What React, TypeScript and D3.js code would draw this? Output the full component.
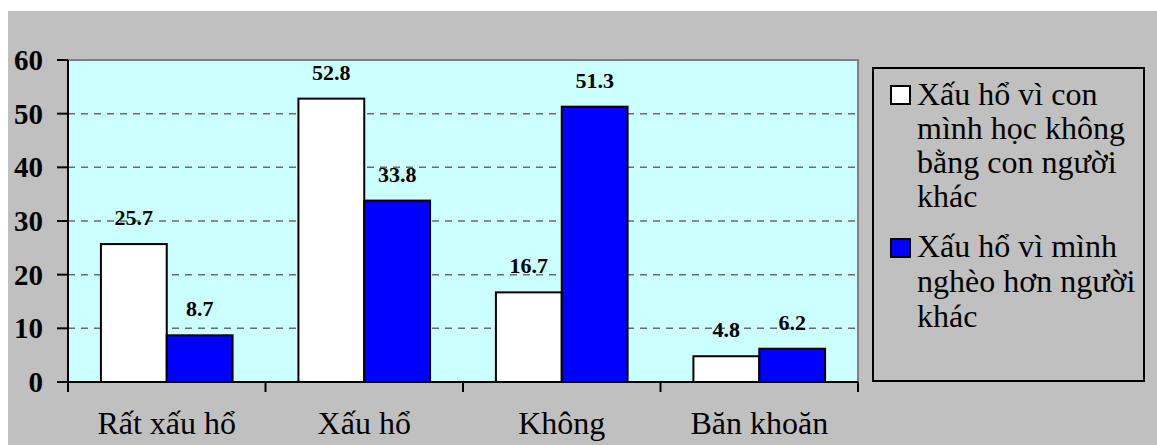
import React from "react";
import * as d3 from "d3";

const categories = ["Rất xấu hổ", "Xấu hổ", "Không", "Băn khoăn"];
const seriesNames = [
  "Xấu hổ vì con mình học không bằng con người khác",
  "Xấu hổ vì mình nghèo hơn người khác",
];
const seriesA = [25.7, 52.8, 16.7, 4.8];
const seriesB = [8.7, 33.8, 51.3, 6.2];
const yTicks = [0, 10, 20, 30, 40, 50, 60];
const legendLinesA = ["Xấu hổ vì con", "mình học không", "bằng con người", "khác"];
const legendLinesB = ["Xấu hổ vì mình", "nghèo hơn người", "khác"];
const seriesColors = ["#ffffff", "#0000ff"];

const W = 1157;
const H = 445;
const plot = { left: 68, right: 858, top: 60, bottom: 382 };
const serif = { fontFamily: "Liberation Serif" };

export default function App() {
  const x0 = d3
    .scaleBand<string>()
    .domain(categories)
    .range([plot.left, plot.right])
    .padding(0);
  const x1 = d3
    .scaleBand<number>()
    .domain([0, 1])
    .range([0, x0.bandwidth()])
    .paddingInner(0)
    .paddingOuter(0.5);
  const y = d3.scaleLinear().domain([0, 60]).range([plot.bottom, plot.top]);

  const series = [seriesA, seriesB];
  const boundaries = [...categories.map((c) => x0(c)!), plot.right];

  return (
    <svg
      width={W}
      height={H}
      style={{ position: "absolute", left: 0, top: 0, display: "block" }}
    >
      <rect x={0} y={0} width={W} height={H} fill="#ffffff" />
      <rect x={8} y={11} width={W - 8} height={H - 11} fill="#c0c0c0" />

      {/* plot area */}
      <rect
        x={plot.left}
        y={plot.top}
        width={plot.right - plot.left}
        height={plot.bottom - plot.top}
        fill="#ccffff"
        stroke="#808080"
        strokeWidth={2}
      />

      {/* dashed gridlines */}
      {yTicks
        .filter((t) => t > 0 && t < 60)
        .map((t) => (
          <line
            key={"g" + t}
            x1={plot.left}
            x2={plot.right}
            y1={y(t)}
            y2={y(t)}
            stroke="#6b6b6b"
            strokeWidth={1.5}
            strokeDasharray="7,6"
          />
        ))}

      {/* bars */}
      {categories.map((c, ci) =>
        series.map((s, si) => (
          <rect
            key={c + si}
            x={x0(c)! + x1(si)!}
            y={y(s[ci])}
            width={x1.bandwidth()}
            height={y(0) - y(s[ci])}
            fill={seriesColors[si]}
            stroke="#000"
            strokeWidth={2}
          />
        ))
      )}

      {/* value labels */}
      {categories.map((c, ci) =>
        series.map((s, si) => (
          <text
            key={"l" + c + si}
            x={x0(c)! + x1(si)! + x1.bandwidth() / 2}
            y={y(s[ci]) - 19}
            textAnchor="middle"
            style={serif}
            fontWeight="bold"
            fontSize={22}
            fill="#000"
          >
            {s[ci].toFixed(1)}
          </text>
        ))
      )}

      {/* axes */}
      <line x1={plot.left} x2={plot.left} y1={plot.top} y2={plot.bottom + 10} stroke="#000" strokeWidth={2} />
      <line x1={plot.left - 11} x2={plot.right} y1={plot.bottom} y2={plot.bottom} stroke="#000" strokeWidth={2} />
      {yTicks.map((t) => (
        <g key={"yt" + t}>
          <line x1={plot.left - 11} x2={plot.left} y1={y(t)} y2={y(t)} stroke="#000" strokeWidth={2} />
          <text
            x={43}
            y={y(t)}
            dy="0.34em"
            textAnchor="end"
            style={serif}
            fontWeight="bold"
            fontSize={29}
            fill="#000"
          >
            {t}
          </text>
        </g>
      ))}
      {boundaries.map((bx, i) => (
        <line key={"xt" + i} x1={bx} x2={bx} y1={plot.bottom} y2={plot.bottom + 10} stroke="#000" strokeWidth={2} />
      ))}
      {categories.map((c) => (
        <text
          key={"xl" + c}
          x={x0(c)! + x0.bandwidth() / 2}
          y={434}
          textAnchor="middle"
          style={serif}
          fontSize={32}
          fill="#000"
        >
          {c}
        </text>
      ))}

      {/* legend */}
      <g>
        <rect x={873} y={68} width={271} height={313} fill="none" stroke="#000" strokeWidth={2} />
        <rect x={891} y={86} width={19} height={18} fill={seriesColors[0]} stroke="#000" strokeWidth={2}>
          <title>{seriesNames[0]}</title>
        </rect>
        <text style={serif} fontSize={32} fill="#000">
          {legendLinesA.map((ln, i) => (
            <tspan key={ln} x={917} y={105 + i * 34}>
              {ln}
            </tspan>
          ))}
        </text>
        <rect x={891} y={239} width={19} height={18} fill={seriesColors[1]} stroke="#000" strokeWidth={2}>
          <title>{seriesNames[1]}</title>
        </rect>
        <text style={serif} fontSize={32} fill="#000">
          {legendLinesB.map((ln, i) => (
            <tspan key={ln + i} x={917} y={257 + i * 35}>
              {ln}
            </tspan>
          ))}
        </text>
      </g>
    </svg>
  );
}
